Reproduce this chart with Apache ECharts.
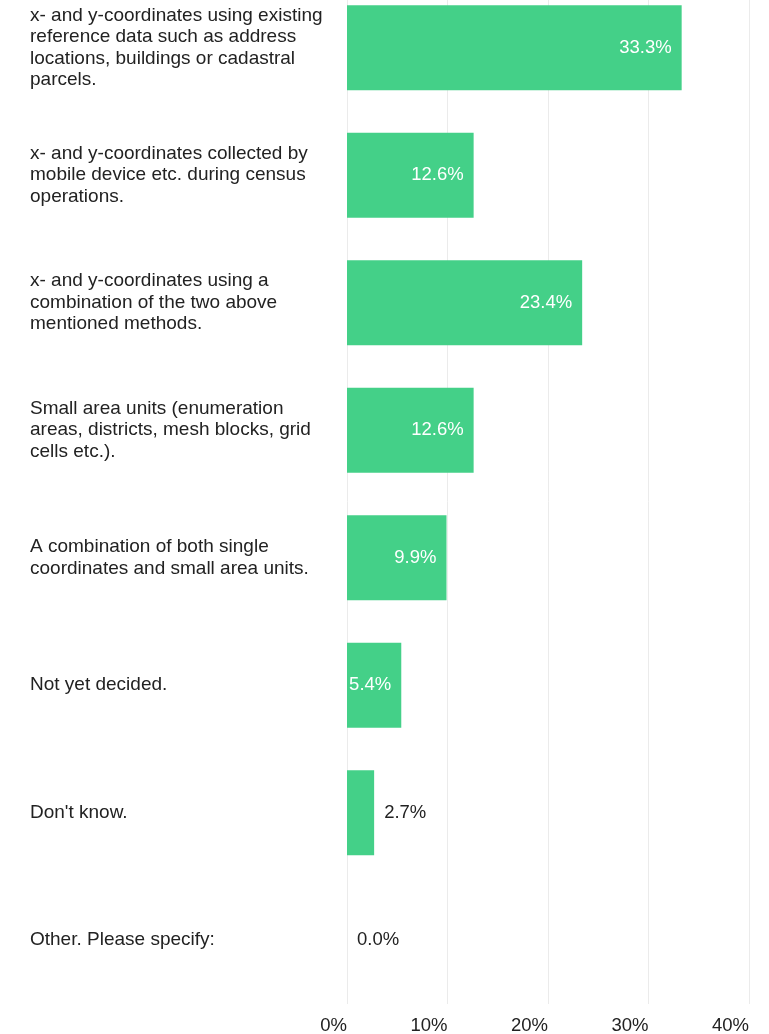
<!DOCTYPE html>
<html>
<head>
<meta charset="utf-8">
<script src="https://cdn.jsdelivr.net/npm/echarts@6/dist/echarts.min.js"></script>
<style>
html,body{margin:0;padding:0;background:#fff;}
#chart{width:769px;height:1034px;}
</style>
</head>
<body>
<div id="chart"></div>
<script>
const categories = [
  "x- and y-coordinates using existing\nreference data such as address\nlocations, buildings or cadastral\nparcels.",
  "x- and y-coordinates collected by\nmobile device etc. during census\noperations.",
  "x- and y-coordinates using a\ncombination of the two above\nmentioned methods.",
  "Small area units (enumeration\nareas, districts, mesh blocks, grid\ncells etc.).",
  "A combination of both single\ncoordinates and small area units.",
  "Not yet decided.",
  "Don't know.",
  "Other. Please specify:"
];
const values = [33.3, 12.6, 23.4, 12.6, 9.9, 5.4, 2.7, 0.0];
const xTicks = [0, 10, 20, 30, 40];

const FONT = '"Liberation Sans", Arial, Helvetica, sans-serif';
const chart = echarts.init(document.getElementById('chart'), null, {renderer: 'canvas'});

const data = values.map(v => {
  const inside = v >= 5;
  return {
    value: v,
    label: {
      show: true,
      position: inside ? 'insideRight' : 'right',
      distance: 10,
      color: inside ? '#ffffff' : '#222222',
      fontSize: 18.5,
      fontFamily: FONT,
      formatter: p => p.value.toFixed(1) + '%'
    }
  };
});

chart.setOption({
  animation: false,
  backgroundColor: '#ffffff',
  grid: {left: 347, right: 20, top: -16, height: 1020, containLabel: false, outerBoundsMode: 'none'},
  xAxis: {
    type: 'value',
    min: xTicks[0],
    max: xTicks[xTicks.length - 1],
    interval: 10,
    axisLine: {show: false},
    axisTick: {show: false},
    splitLine: {show: true, lineStyle: {color: '#ebebeb', width: 1}},
    axisLabel: {
      formatter: v => v + '%',
      align: 'right',
      margin: 12,
      color: '#222222',
      fontSize: 18.5,
      fontFamily: FONT
    }
  },
  yAxis: {
    type: 'category',
    inverse: true,
    data: categories,
    axisLine: {show: false},
    axisTick: {show: false},
    splitLine: {show: false},
    axisLabel: {
      align: 'left',
      margin: 317,
      color: '#222222',
      fontSize: 19,
      lineHeight: 21.5,
      fontFamily: FONT
    }
  },
  series: [{
    type: 'bar',
    data: data,
    barWidth: 85,
    itemStyle: {color: '#44d088'}
  }]
});
</script>
</body>
</html>
